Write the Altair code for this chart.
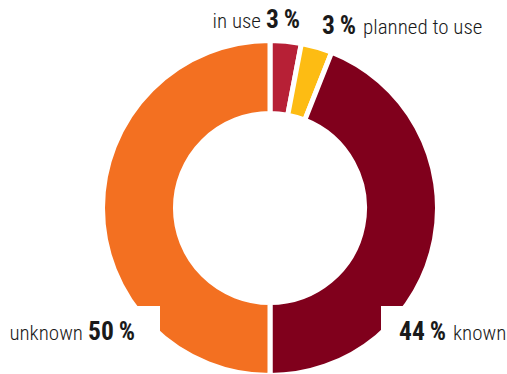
import altair as alt
import pandas as pd

# ---- data ----
categories = ["in use", "planned to use", "known", "unknown"]
values = [3, 3, 44, 50]
colors = ["#B72036", "#FDBC13", "#80001C", "#F37021"]
value_labels = ["3\u2009%", "3\u2009%", "44\u2009%", "50\u2009%"]

df = pd.DataFrame({"category": categories, "value": values,
                   "order": list(range(len(categories)))})

# ---- layout constants (pixels) ----
W, H = 507, 374
CX, CY = 270, 208
R_OUT, R_IN, GAP = 167.5, 94.5, 5
FONT = "'Roboto Condensed', 'Liberation Sans Narrow', 'Liberation Sans', sans-serif"
REG_SIZE, BOLD_SIZE = 21, 25.5
TEXT_COLOR = "#1a1a1a"

donut = alt.Chart(df).mark_arc(
    outerRadius=R_OUT, innerRadius=R_IN, stroke="white", strokeWidth=GAP
).encode(
    theta=alt.Theta("value:Q", stack=True),
    order=alt.Order("order:Q"),
    color=alt.Color("category:N", scale=alt.Scale(domain=categories, range=colors), legend=None),
    x=alt.value(CX),
    y=alt.value(CY),
)

# white boxes behind the bottom labels (label backgrounds in the original)
box_left = alt.Chart(df).mark_rect(color="white").encode(
    x=alt.value(0), x2=alt.value(160), y=alt.value(306), y2=alt.value(333))
box_right = alt.Chart(df).mark_rect(color="white").encode(
    x=alt.value(381), x2=alt.value(W), y=alt.value(306), y2=alt.value(333))

# label layout: (category index, x junction, baseline y, name first?)
label_layout = [
    (0, 261, 28, True),    # "in use 3%"
    (1, 356, 34, False),   # "3% planned to use"
    (2, 446, 340, False),  # "44% known"
    (3, 83, 340, True),    # "unknown 50%"
]

layers = [donut, box_left, box_right]
for idx, xj, yb, name_first in label_layout:
    row = pd.DataFrame({"name": [categories[idx]], "val": [value_labels[idx]]})
    if name_first:
        name_align, val_align, name_x, val_x = "right", "left", xj, xj + 5
    else:
        name_align, val_align, name_x, val_x = "left", "right", xj + 7, xj
    layers.append(alt.Chart(row).mark_text(
        font=FONT, fontSize=REG_SIZE, fontWeight=300, color=TEXT_COLOR,
        align=name_align, baseline="alphabetic"
    ).encode(text="name:N", x=alt.value(name_x), y=alt.value(yb)))
    layers.append(alt.Chart(row).mark_text(
        font=FONT, fontSize=BOLD_SIZE, fontWeight="bold", color=TEXT_COLOR,
        align=val_align, baseline="alphabetic"
    ).encode(text="val:N", x=alt.value(val_x), y=alt.value(yb)))

chart = alt.layer(*layers).properties(
    width=W, height=H, padding=0, autosize=alt.AutoSizeParams(type="none")
).configure_view(stroke=None)

chart.save("out.html", embed_options={"renderer": "svg", "actions": False})
